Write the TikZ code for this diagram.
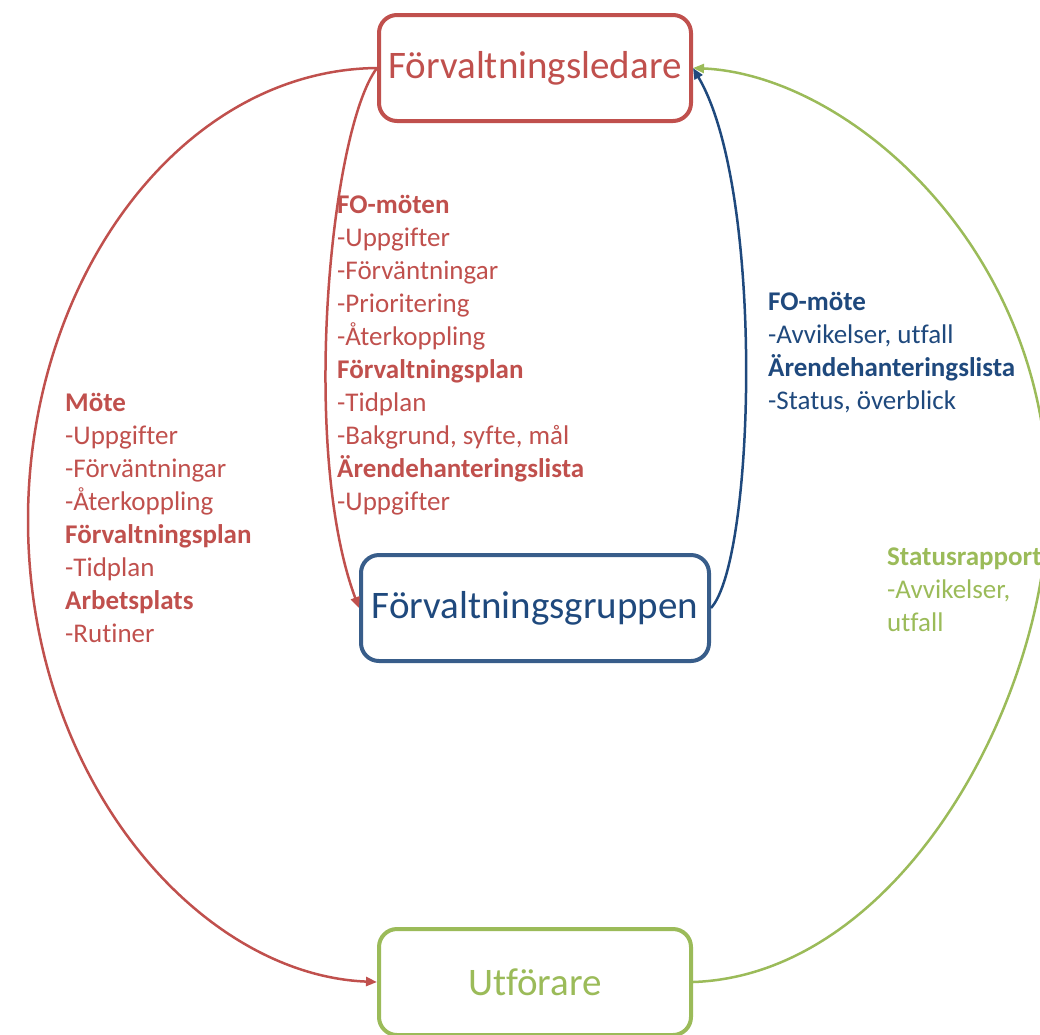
\documentclass[tikz,border=0pt]{standalone}
\usepackage{fontspec}
\setmainfont[Ligatures={NoCommon}]{Carlito}
\usetikzlibrary{arrows.meta,positioning}
\definecolor{fored}{HTML}{C0504D}
\definecolor{foblue}{HTML}{1F497D}
\definecolor{foboxblue}{HTML}{385D8A}
\definecolor{fogreen}{HTML}{9BBB59}

\begin{document}
\begin{tikzpicture}[x=1pt,y=-1pt,
  rolebox/.style={draw,line width=4pt,rounded corners=18pt,fill=white,
    minimum height=106pt,font=\fontsize{39}{44}\selectfont},
  infotext/.style={anchor=north west,inner sep=0pt,align=left,
    font=\fontsize{27}{33}\selectfont},
  flow/.style={line width=2.5pt,-{Triangle[length=11pt,width=9pt]}}]
\useasboundingbox (0,0) rectangle (1040,1034);

\node[rolebox,draw=fored,text=fored,minimum width=312pt] (ledare) at (535,68) {Förvaltningsledare};
\node[rolebox,draw=foboxblue,text=foblue,minimum width=348pt] (grupp) at (535,608) {Förvaltningsgruppen};
\node[rolebox,draw=fogreen,text=fogreen,minimum width=312pt] (utf) at (535,982) {Utförare};

\draw[flow,fored] (ledare.west) .. controls (180,70) and (28,280) .. (28,520)
  .. controls (28,780) and (200,975) .. (utf.west);
\draw[flow,fored] (ledare.west) .. controls (330,130) and (300,450) .. (grupp.west);
\draw[flow,foblue] (grupp.east) .. controls (755,560) and (765,190) .. (ledare.east);
\draw[flow,fogreen] (utf.east) .. controls (900,975) and (1048,700) .. (1048,500)
  .. controls (1048,250) and (850,75) .. (ledare.east);

\node[infotext,text=fored] (fomoten) at (337,195) {\textbf{FO-möten}\\-Uppgifter\\-Förväntningar\\-Prioritering\\-Återkoppling\\\textbf{Förvaltningsplan}\\-Tidplan\\-Bakgrund, syfte, mål\\\textbf{Ärendehanteringslista}\\-Uppgifter};
\node[infotext,text=fored] (mote) at (65,393) {\textbf{Möte}\\-Uppgifter\\-Förväntningar\\-Återkoppling\\\textbf{Förvaltningsplan}\\-Tidplan\\\textbf{Arbetsplats}\\-Rutiner};
\node[infotext,text=foblue] (fomote) at (768,292) {\textbf{FO-möte}\\-Avvikelser, utfall\\\textbf{Ärendehanteringslista}\\-Status, överblick};
\node[infotext,text=fogreen] (status) at (887,548) {\textbf{Statusrapport}\\-Avvikelser,\\utfall};

\end{tikzpicture}
\end{document}
